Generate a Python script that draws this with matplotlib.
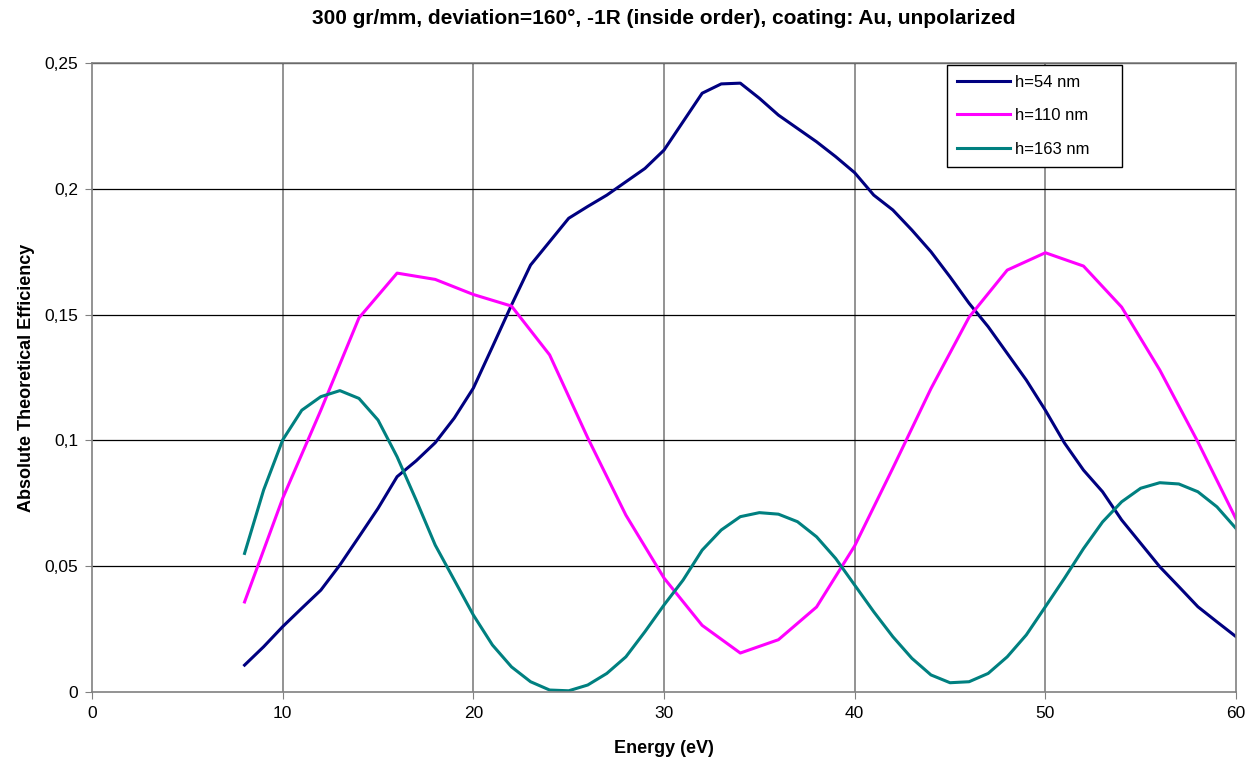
import matplotlib
matplotlib.use('Agg')
import matplotlib.pyplot as plt
import numpy as np

plt.rcParams['font.family'] = ['Liberation Sans', 'DejaVu Sans']

# h=54 nm, read every 1 eV
e54 = np.arange(8, 61)
h54 = [0.0107, 0.018, 0.026, 0.0333, 0.0405, 0.0505, 0.0617, 0.073, 0.0856, 0.0919,
       0.0991, 0.1089, 0.1208, 0.1372, 0.1538, 0.1697, 0.179, 0.1883, 0.193, 0.1975,
       0.2028, 0.2081, 0.2154, 0.2267, 0.238, 0.2417, 0.242, 0.236, 0.2293, 0.224,
       0.2187, 0.2128, 0.2064, 0.1975, 0.1916, 0.1836, 0.175, 0.165, 0.1545, 0.1452,
       0.1346, 0.124, 0.112, 0.099, 0.0882, 0.0796, 0.0684, 0.0591, 0.0498, 0.0419,
       0.0339, 0.0279, 0.022]

# h=110 nm, read every 2 eV
e110 = np.arange(8, 61, 2)
h110 = [0.0358, 0.077, 0.112, 0.1487, 0.1665, 0.164, 0.158, 0.1534, 0.134, 0.101,
        0.0703, 0.0453, 0.0265, 0.0155, 0.0208, 0.0338, 0.0581, 0.089, 0.1206, 0.149,
        0.1677, 0.1746, 0.1693, 0.153, 0.128, 0.0994, 0.0688]

# h=163 nm, read every 1 eV
e163 = np.arange(8, 61)
h163 = [0.0551, 0.0803, 0.1002, 0.112, 0.1174, 0.1198, 0.1167, 0.1081, 0.0935, 0.0763,
        0.0584, 0.0445, 0.0306, 0.0187, 0.01, 0.0041, 0.0008, 0.0005, 0.0028, 0.0074,
        0.014, 0.024, 0.0346, 0.0445, 0.0564, 0.0644, 0.0697, 0.0713, 0.0707, 0.0677,
        0.0617, 0.0531, 0.0425, 0.0319, 0.022, 0.0134, 0.0068, 0.0037, 0.0041, 0.0074,
        0.014, 0.0227, 0.0339, 0.0452, 0.057, 0.0676, 0.0756, 0.081, 0.0832, 0.0827,
        0.0796, 0.0736, 0.065]

yticks = [0, 0.05, 0.1, 0.15, 0.2, 0.25]
ylabels = ['0', '0,05', '0,1', '0,15', '0,2', '0,25']

fig = plt.figure(figsize=(12.47, 7.63), dpi=100)
ax = fig.add_axes([0.0738, 0.093, 0.9174, 0.8244])

ax.plot(e54, h54, color='#000080', linewidth=2.2, label='h=54 nm')
ax.plot(e110, h110, color='#FF00FF', linewidth=2.2, label='h=110 nm')
ax.plot(e163, h163, color='#008080', linewidth=2.2, label='h=163 nm')

ax.set_xlim(0, 60)
ax.set_ylim(0, 0.25)
ax.set_xticks(range(0, 61, 10))
ax.set_yticks(yticks)
ax.set_yticklabels(ylabels)
ax.tick_params(labelsize=12.5, direction='out', length=5, color='#808080', pad=5)

for x in range(10, 60, 10):
    ax.axvline(x, color='#808080', linewidth=1.2, zorder=0)
for y in yticks[1:]:
    ax.axhline(y, color='black', linewidth=0.9, zorder=0)
for s in ax.spines.values():
    s.set_color('#808080')
    s.set_linewidth(1.2)

ax.set_xlabel('Energy (eV)', fontsize=13, fontweight='bold', labelpad=14)
ax.set_ylabel('Absolute Theoretical Efficiency', fontsize=13, fontweight='bold', labelpad=7)
ax.set_title('300 gr/mm, deviation=160°, -1R (inside order), coating: Au, unpolarized',
             fontsize=15, fontweight='bold', pad=28)

leg = ax.legend(loc='upper left', bbox_to_anchor=(0.747, 0.997, 0.153, 0.0), mode='expand',
                borderaxespad=0,
                fontsize=12, fancybox=False, edgecolor='black', framealpha=1,
                handlelength=3.2, labelspacing=1.1, borderpad=0.6, handletextpad=0.3)
leg.get_frame().set_linewidth(1)

fig.savefig('out.png', dpi=100)
